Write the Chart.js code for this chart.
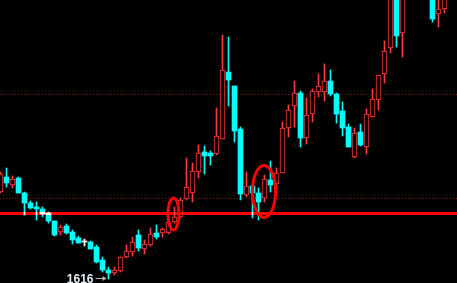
<!DOCTYPE html>
<html>
<head>
<meta charset="utf-8">
<script src="https://cdn.jsdelivr.net/npm/chart.js@4.4.1/dist/chart.umd.min.js"></script>
<style>
  html, body { margin: 0; padding: 0; background: #000; }
  #wrap { width: 457px; height: 283px; }
</style>
</head>
<body>
<div id="wrap"><canvas id="kline"></canvas></div>
<script>
// Daily candles (price units)
const opens  = [1703,1718,1710,1717,1702,1692,1688,1686,1682,1674,1663,1669,1663,1657,1653,1653,1648,1635,1625,1622,
                1624,1638,1643,1660,1646,1650,1662,1662,1662,1673,1678,1696,1702,1723,1743,1742,1741,1756,1823,1809,
                1766,1700,1709,1702,1697,1715,1711,1722,1767,1789,1802,1757,1781,1803,1803,1814,1801,1784,1768,1738,
                1763,1748,1778,1795,1821,1847,1910,1862,1912,1930,1952,1935,1910,1881,1886];
const highs  = [1723,1727,1719,1718,1703,1694,1693,1688,1683,1674,1670,1671,1665,1659,1656,1654,1650,1638,1628,1628,
                1638,1650,1658,1665,1655,1667,1670,1667,1675,1688,1697,1737,1732,1750,1749,1744,1787,1860,1858,1809,
                1768,1723,1709,1707,1720,1734,1727,1773,1790,1814,1804,1797,1806,1821,1831,1825,1802,1793,1771,1767,
                1771,1786,1806,1820,1854,1912,1915,1925,1940,1958,1960,1940,1915,1897,1906];
const lows   = [1702,1708,1707,1702,1680,1686,1675,1678,1672,1659,1660,1661,1651,1652,1649,1646,1632,1623,1616,1620,
                1623,1637,1639,1644,1641,1649,1656,1658,1661,1672,1677,1695,1693,1717,1721,1730,1740,1756,1789,1753,
                1695,1698,1677,1675,1693,1703,1707,1722,1758,1768,1748,1751,1773,1798,1794,1799,1772,1759,1748,1737,
                1749,1741,1778,1785,1812,1842,1848,1838,1905,1925,1922,1905,1873,1868,1882];
const closes = [1721,1712,1716,1702,1692,1687,1686,1681,1674,1660,1668,1662,1655,1652,1653,1646,1633,1625,1622,1625,
                1638,1644,1653,1647,1651,1661,1658,1666,1673,1678,1695,1708,1724,1742,1739,1739,1759,1825,1815,1764,
                1701,1709,1702,1693,1716,1710,1722,1767,1785,1802,1757,1780,1804,1809,1814,1801,1781,1767,1748,1762,
                1750,1781,1796,1820,1844,1905,1859,1915,1935,1950,1930,1912,1876,1886,1900];

const gridLevels = [1801, 1697];   // dotted reference lines
const supportLevel = 1681.5;       // thick red line
const lowMarkIndex = 18;           // candle labelled with its low
// hand-drawn circles: centre (candle index, price) and radii (candles, price)
const circles = [
    { index: 28.83, price: 1681, rIndex: 0.92, rPrice: 16 },
    { index: 43.92, price: 1703.5, rIndex: 1.92, rPrice: 26 }
];

const upColor = '#ff3b3b';
const downColor = '#00ffff';
const flatColor = '#ffffff';

const idx = opens.map((o, i) => i);

function candleColor(i) {
    if (closes[i] > opens[i]) return upColor;
    if (closes[i] < opens[i]) return downColor;
    return flatColor;
}

/**
 * Grid lines under the candles, support line, circles and low label on top
 */
const overlays = {
    id: 'overlays',
    beforeDatasetsDraw(chart) {
        const { ctx, chartArea, scales: { y } } = chart;
        ctx.save();
        ctx.strokeStyle = '#861212';
        ctx.lineWidth = 1;
        ctx.setLineDash([1, 2]);
        gridLevels.forEach(level => {
            const py = Math.round(y.getPixelForValue(level)) + 0.5;
            ctx.beginPath();
            ctx.moveTo(chartArea.left, py);
            ctx.lineTo(chartArea.right, py);
            ctx.stroke();
        });
        ctx.restore();
    },
    afterDatasetsDraw(chart) {
        const { ctx, chartArea, scales: { x, y } } = chart;
        ctx.save();

        // support line adds onto the candles (cyan + red shows white)
        ctx.globalCompositeOperation = 'lighter';
        ctx.strokeStyle = '#ff0000';
        ctx.lineWidth = 3;
        const sy = y.getPixelForValue(supportLevel);
        ctx.beginPath();
        ctx.moveTo(chartArea.left, sy);
        ctx.lineTo(chartArea.right, sy);
        ctx.stroke();
        ctx.globalCompositeOperation = 'source-over';

        // circles
        ctx.strokeStyle = '#ff0000';
        ctx.lineWidth = 3;
        circles.forEach(c => {
            const cx = x.getPixelForValue(c.index);
            const cy = y.getPixelForValue(c.price);
            const rx = x.getPixelForValue(c.index + c.rIndex) - cx;
            const ry = Math.abs(y.getPixelForValue(c.price + c.rPrice) - cy);
            ctx.beginPath();
            ctx.ellipse(cx, cy, rx, ry, 0, 0, Math.PI * 2);
            ctx.stroke();
        });

        // low label with arrow
        const tipX = x.getPixelForValue(lowMarkIndex) - 2;
        const tipY = Math.round(y.getPixelForValue(lows[lowMarkIndex])) - 0.5;
        const startX = tipX - 11;
        ctx.strokeStyle = '#b8b8b8';
        ctx.fillStyle = '#b8b8b8';
        ctx.lineWidth = 1;
        ctx.beginPath();
        ctx.moveTo(startX, tipY);
        ctx.lineTo(tipX - 2, tipY);
        ctx.stroke();
        ctx.beginPath();
        ctx.moveTo(tipX, tipY);
        ctx.lineTo(tipX - 4, tipY - 2.5);
        ctx.lineTo(tipX - 4, tipY + 2.5);
        ctx.closePath();
        ctx.fill();

        ctx.fillStyle = '#e6eef6';
        ctx.font = 'bold 12px "Liberation Sans", Arial, sans-serif';
        ctx.textAlign = 'right';
        ctx.textBaseline = 'alphabetic';
        ctx.fillText(String(lows[lowMarkIndex]), startX - 2, tipY + 4.5);

        ctx.restore();
    }
};

new Chart(document.getElementById('kline'), {
    type: 'bar',
    data: {
        datasets: [
            {
                // candle bodies
                data: idx.map(i => ({ x: i, y: [opens[i], closes[i]] })),
                grouped: false,
                order: 1,
                barPercentage: 1,
                categoryPercentage: 1,
                barThickness: 5,
                maxBarThickness: 5,
                minBarLength: 1,
                borderSkipped: false,
                backgroundColor: (c) => closes[c.dataIndex] > opens[c.dataIndex] ? '#000000' : candleColor(c.dataIndex),
                borderColor: upColor,
                borderWidth: (c) => closes[c.dataIndex] > opens[c.dataIndex] ? 1 : 0
            },
            {
                // wicks
                data: idx.map(i => ({ x: i, y: [lows[i], highs[i]] })),
                grouped: false,
                order: 2,
                barPercentage: 1,
                categoryPercentage: 1,
                barThickness: 1,
                maxBarThickness: 1,
                borderWidth: 0,
                backgroundColor: (c) => candleColor(c.dataIndex)
            }
        ]
    },
    options: {
        responsive: true,
        maintainAspectRatio: false,
        animation: false,
        events: [],
        layout: { padding: 0 },
        plugins: {
            legend: { display: false },
            tooltip: { enabled: false }
        },
        scales: {
            x: {
                type: 'linear',
                display: false,
                offset: false,
                bounds: 'data',
                min: -1 / 12,
                max: 457 / 6 - 1 / 12
            },
            y: {
                type: 'linear',
                display: false,
                bounds: 'data',
                min: 1612,
                max: 1895
            }
        }
    },
    plugins: [overlays]
});
</script>
</body>
</html>
